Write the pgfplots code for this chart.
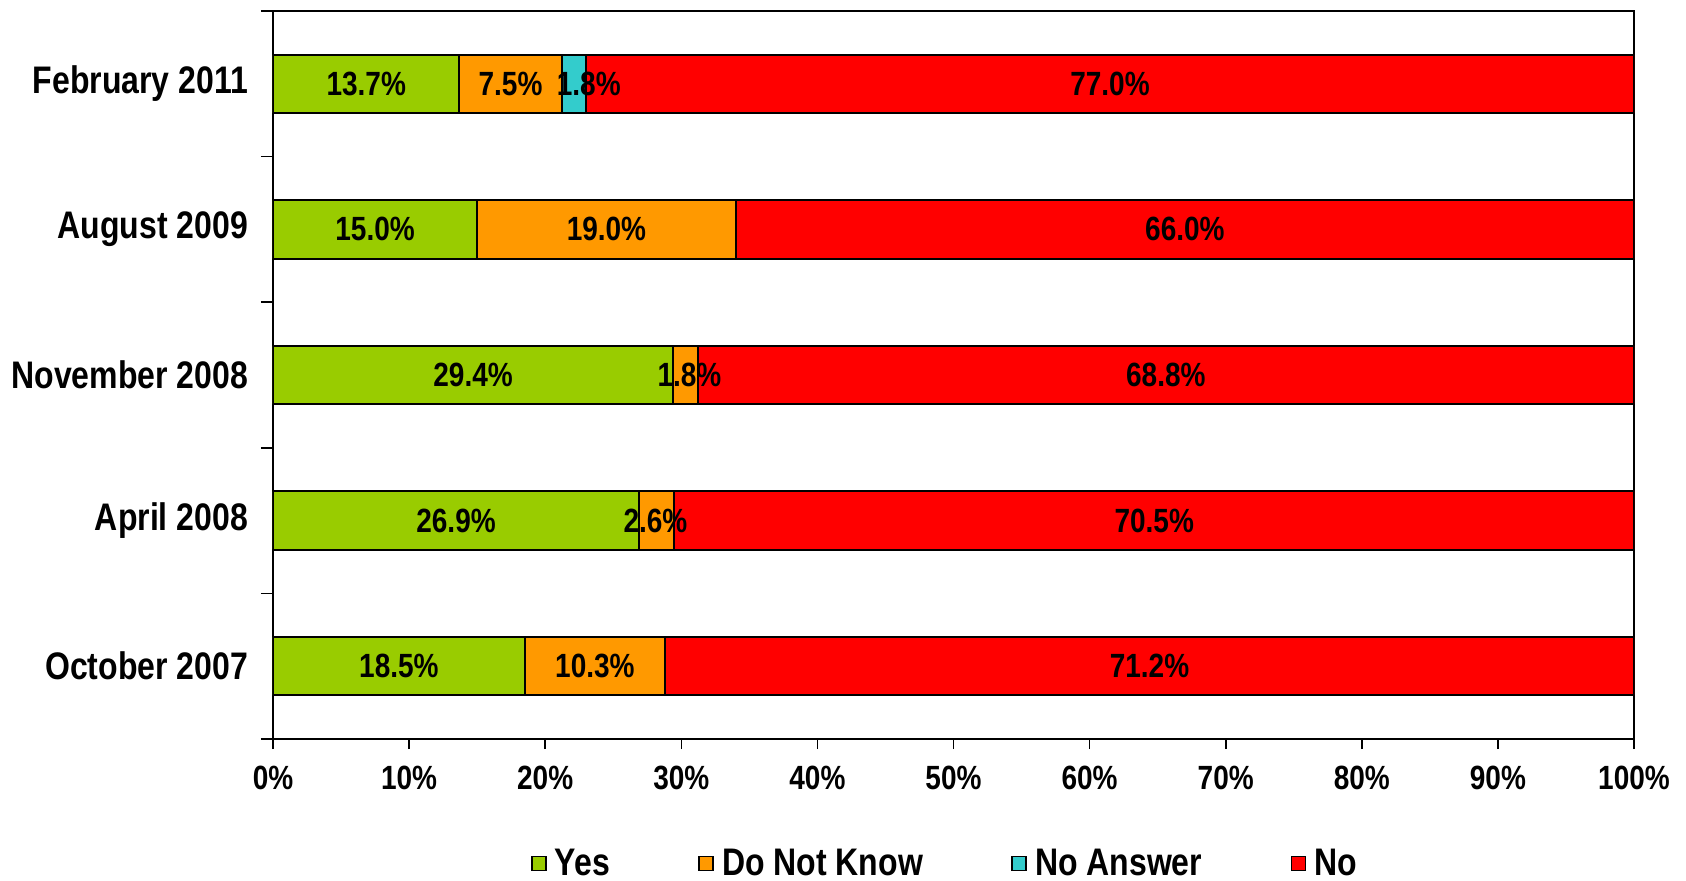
\documentclass[border=0pt]{standalone}
\usepackage{fontspec}
\setmainfont{Liberation Sans}
\usepackage{graphicx}
\usepackage{pgfplots}
\pgfplotsset{compat=1.18}

\definecolor{cyes}{HTML}{99CC00}
\definecolor{cdnk}{HTML}{FF9900}
\definecolor{cna}{HTML}{33CCCC}
\definecolor{cno}{HTML}{FF0000}

% the reference text is set a little taller than plain Arial
\newcommand\tall[1]{\scalebox{1}[1.2]{#1}}

\pgfplotsset{
  frame/.style={
    scale only axis, width=680.5pt, height=364pt,
    at={(0,0)}, anchor=south west,
    xmin=0, xmax=100, ymin=-0.5, ymax=4.5,
  }
}

\begin{document}
\begin{tikzpicture}
% page frame, same margins as the reference
\path (-136.5pt,-70.5pt) rectangle (706.5pt,369.5pt);
\begin{axis}[
  frame,
  xbar stacked, bar width=0.4,
  axis line style={line width=1pt},
  xtick={0,10,...,100},
  xticklabels={\tall{0\%},\tall{10\%},\tall{20\%},\tall{30\%},\tall{40\%},\tall{50\%},
    \tall{60\%},\tall{70\%},\tall{80\%},\tall{90\%},\tall{100\%}},
  ytick={0,...,4},
  yticklabels={\tall{October 2007},\tall{April 2008},\tall{November 2008},
    \tall{August 2009},\tall{February 2011}},
  minor ytick={-0.5,0.5,...,4.5},
  xtick pos=bottom, ytick pos=left,
  tick align=outside,
  major tick length=5pt, minor tick length=6pt,
  major y tick style={draw=none},
  tick style={black, line width=0.8pt},
  xticklabel style={font=\fontsize{14}{14}\selectfont\bfseries, yshift=-5pt},
  yticklabel style={font=\fontsize{16}{16}\selectfont\bfseries, xshift=-4pt},
  legend columns=4,
  legend style={draw=none, at={(0.4934,-0.171)}, anchor=center, inner sep=0pt,
    nodes={inner sep=0.5pt},
    font=\fontsize{16}{16}\selectfont\bfseries,
    /tikz/every even column/.append style={column sep=43.7pt}},
  legend image code/.code={
    \draw[#1, line width=0.8pt] (0pt,-3.5pt) rectangle (7pt,3.5pt);
    \path[draw=none, fill=none] (0pt,0pt) -- (11pt,0pt);},
  every axis plot/.append style={draw=black, line width=1pt},
]
\addplot[fill=cyes] coordinates {(18.5,0) (26.9,1) (29.4,2) (15.0,3) (13.7,4)};
\addplot[fill=cdnk] coordinates {(10.3,0) (2.6,1) (1.8,2) (19.0,3) (7.5,4)};
\addplot[fill=cna]  coordinates {(0,0) (0,1) (0,2) (0,3) (1.8,4)};
\addplot[fill=cno]  coordinates {(71.2,0) (70.5,1) (68.8,2) (66.0,3) (77.0,4)};
\legend{\tall{Yes},\tall{Do Not Know},\tall{No Answer},\tall{No}}
\end{axis}
% value labels, on top of the bars
\begin{axis}[frame, hide axis]
\addplot[only marks, mark=none, point meta=explicit symbolic,
  nodes near coords={\tall{\pgfplotspointmeta}}, nodes near coords align={anchor=center},
  every node near coord/.append style={font=\fontsize{14}{14}\selectfont\bfseries}]
coordinates {
  (9.25,0) [18.5\%] (23.65,0) [10.3\%] (64.4,0) [71.2\%]
  (13.45,1) [26.9\%] (28.1,1) [2.6\%] (64.75,1) [70.5\%]
  (14.7,2) [29.4\%] (30.6,2) [1.8\%] (65.6,2) [68.8\%]
  (7.5,3) [15.0\%] (24.5,3) [19.0\%] (67.0,3) [66.0\%]
  (6.85,4) [13.7\%] (17.45,4) [7.5\%] (23.2,4) [1.8\%] (61.5,4) [77.0\%]
};
\end{axis}
\end{tikzpicture}
\end{document}
